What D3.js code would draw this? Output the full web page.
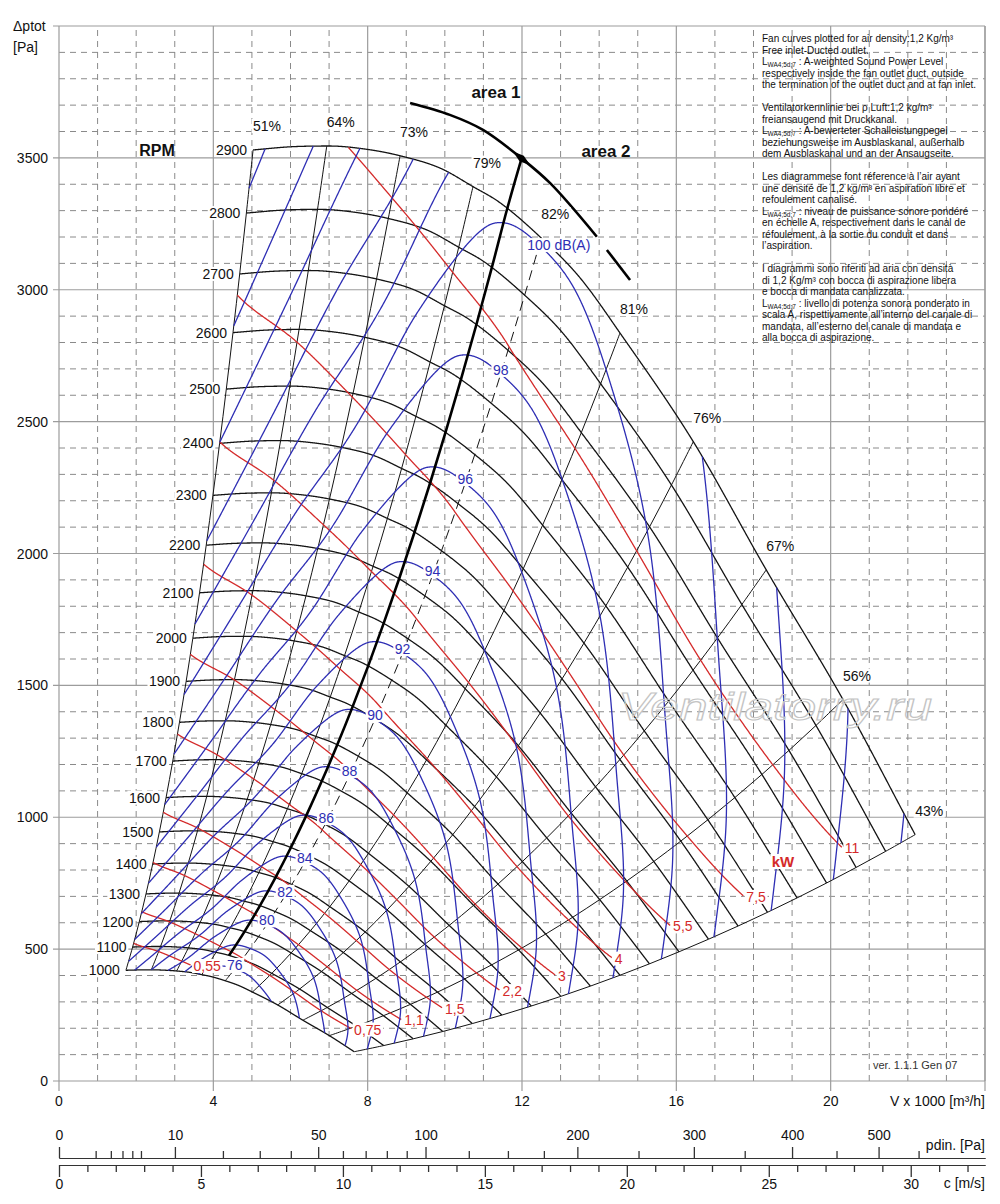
<!DOCTYPE html>
<html><head><meta charset="utf-8">
<script src="https://cdn.jsdelivr.net/npm/d3@7"></script>
<style>
body{margin:0;background:#fff}
svg{display:block}
text{font-family:"Liberation Sans",Arial,Helvetica,sans-serif}
</style>
</head><body>
<svg id="c" width="1000" height="1204"></svg>
<script>
// ================= DATA =================
// fan speeds of the drawn characteristics
const rpmValues = [1000,1100,1200,1300,1400,1500,1600,1700,1800,1900,2000,2100,2200,2300,2400,2500,2600,2700,2800,2900];
// characteristic at 2900 rpm : V [1000 m3/h] , dp tot [Pa]
const fanV2900 = [5.03, 6.0, 7.0, 8.0, 8.84, 9.88, 10.73, 11.43, 12.5, 13.5, 14.54, 16.44, 18.33, 20.32, 22.19];
const fanP2900 = [3530, 3542, 3545, 3532, 3508, 3461, 3391, 3330, 3196, 3046, 2836, 2424, 1938, 1446, 934];
// efficiency lines : label, flow where they meet the 2900 rpm curve
const effLabels = ["51%","64%","73%","79%","82%","81%","76%","67%","56%","43%"];
const effValues = [51, 64, 73, 79, 82, 81, 76, 67, 56, 43];
const effV2900  = [5.03, 6.94, 8.84, 10.73, 12.5, 14.54, 16.44, 18.33, 20.32, 22.19];
const effDashed = ["82%"];
// A-weighted sound power along the 2900 rpm curve [dB(A)]
const soundV2900 = [5.03, 6.59, 7.8, 9.18, 10.1, 11.43, 12.5, 13.5, 14.54, 16.44, 18.6, 20.45, 21.9, 22.19];
const soundL2900 = [110.5, 108, 106, 104, 102, 100.28, 100.1, 100.2, 100.6, 101.8, 104, 106, 108, 108.4];
const soundSlope = 55;              // dB per decade of speed
const dbLevels   = [76,78,80,82,84,86,88,90,92,94,96,98,100,102,104,106,108,110];
const dbLabelled = [76,80,82,84,86,88,90,92,94,96,98,100];
const dbLabelV2900 = 12.5;
// absorbed power lines [kW]
const powerKW     = [0.55, 0.75, 1.1, 1.5, 2.2, 3, 4, 5.5, 7.5, 11];
const powerLabels = ["0,55","0,75","1,1","1,5","2,2","3","4","5,5","7,5","11"];
const powerEndV2900 = [9.6, 20.35, 20.9, 21.05, 21.25, 21.5, 21.7, 21.6, 21.75, 21.85];
// area 1 / area 2 border
const areaLineV2900 = 11.62, areaLineFromRpm = 1100, areaLineTop = [11.99, 3498];
const areaArcA = [[9.10,3708],[10.13,3663],[10.99,3606],[11.99,3498],[12.73,3404],[13.94,3201]];
const areaArcB = [[14.2,3151],[14.80,3037]];
// axes
const xTicks = [0,4,8,12,16,20];
const yTicks = [0,500,1000,1500,2000,2500,3000,3500];
const airDensity = 1.2, ductArea = 0.2044;
const pdinMajor = [0,10,50,100,200,300,400,500];
const pdinMinor = [1,2,3,4,5,20,30,40,60,70,80,90,125,150,175,250,350,450,550];
const cMajor = [0,5,10,15,20,25,30];
const cMinor = [1,2,3,4,6,7,8,9,11,12,13,14,16,17,18,19,21,22,23,24,26,27,28,29,31,32];
const notes = [
"Fan curves plotted for air density:1,2 Kg/m³","Free inlet-Ducted outlet.",
"§ : A-weighted Sound Power Level","respectively inside the fan outlet duct, outside",
"the termination of the outlet duct and at fan inlet.","",
"Ventilatorkennlinie bei ρ Luft:1,2 kg/m³","freiansaugend mit Druckkanal.",
"§ : A-bewerteter Schalleistungpegel","beziehungsweise im Ausblaskanal, außerhalb",
"dem Ausblaskanal und an der Ansaugseite.","",
"Les diagrammese font réference à l’air ayant","une densité de 1,2 kg/m³ en aspiration libre et",
"refoulement canalisé.","§ : niveau de puissance sonore pondéré",
"en échelle A, respectivement dans le canal de","réfoulement, à la sortie du conduit et dans",
"l’aspiration.","",
"I diagrammi sono riferiti ad aria con densità","di 1,2 Kg/m³ con bocca di aspirazione libera",
"e bocca di mandata canalizzata.","§ : livello di potenza sonora ponderato in",
"scala A, rispettivamente all’interno del canale di","mandata, all’esterno del canale di mandata e",
"alla bocca di aspirazione."];

// ================= SETUP =================
const svg = d3.select("#c");
const x = d3.scaleLinear().domain([0,24]).range([59,985]);
const y = d3.scaleLinear().domain([0,4000]).range([1081,26]);
const BLUE="#2e2eb4", RED="#d42a2a", BLK="#141414";

function monotone(xs, ys){
  const n=xs.length, d=[], m=new Array(n);
  for(let i=0;i<n-1;i++) d.push((ys[i+1]-ys[i])/(xs[i+1]-xs[i]));
  m[0]=d[0]; m[n-1]=d[n-2];
  for(let i=1;i<n-1;i++) m[i]= d[i-1]*d[i]<=0 ? 0 : (d[i-1]+d[i])/2;
  for(let i=0;i<n-1;i++){
    if(d[i]===0){m[i]=0;m[i+1]=0;continue;}
    const a=m[i]/d[i], b=m[i+1]/d[i], h=a*a+b*b;
    if(h>9){const t=3/Math.sqrt(h); m[i]=t*a*d[i]; m[i+1]=t*b*d[i];}
  }
  return v=>{
    let i=d3.bisectRight(xs,v)-1; i=Math.max(0,Math.min(n-2,i));
    const h=xs[i+1]-xs[i], t=(v-xs[i])/h, t2=t*t, t3=t2*t;
    return (2*t3-3*t2+1)*ys[i]+(t3-2*t2+t)*h*m[i]+(-2*t3+3*t2)*ys[i+1]+(t3-t2)*h*m[i+1];
  };
}
const P0 = monotone(fanV2900, fanP2900);
const L0 = monotone(soundV2900, soundL2900);
const ETA = monotone(effV2900, effValues);
const nMax = rpmValues[rpmValues.length-1];
const sMin = rpmValues[0]/nMax;
const vLo = fanV2900[0], vHi = fanV2900[fanV2900.length-1];
// fan affinity laws: V ~ n, p ~ n^2
const pt = (v0,s)=>[v0*s, P0(v0)*s*s];
const samples = d3.range(vLo, vHi, 0.01).concat([vHi]);
const line = d3.line().x(d=>x(d[0])).y(d=>y(d[1]));
const lineCR = d3.line().x(d=>x(d[0])).y(d=>y(d[1])).curve(d3.curveCatmullRom);

// ================= GRID =================
const grid = svg.append("g");
d3.range(0,24,1).filter(v=>v%4!==0).forEach(v=>{
  grid.append("line").attr("x1",x(v)).attr("x2",x(v)).attr("y1",y(0)).attr("y2",y(4000))
    .attr("stroke","#8a8a8a").attr("stroke-dasharray","6,5").attr("stroke-width",1);
});
d3.range(100,4000,100).filter(p=>p%500!==0).forEach(p=>{
  grid.append("line").attr("x1",x(0)).attr("x2",x(24)).attr("y1",y(p)).attr("y2",y(p))
    .attr("stroke","#8a8a8a").attr("stroke-dasharray","6,5").attr("stroke-width",1);
});
d3.range(0,25,4).forEach(v=>{
  grid.append("line").attr("x1",x(v)).attr("x2",x(v)).attr("y1",y(0)+10).attr("y2",y(4000))
    .attr("stroke","#9c9c9c").attr("stroke-width",1.2);
});
d3.range(0,4001,500).forEach(p=>{
  grid.append("line").attr("x1",x(0)-6).attr("x2",x(24)).attr("y1",y(p)).attr("y2",y(p))
    .attr("stroke","#9c9c9c").attr("stroke-width",1.2);
});
grid.append("line").attr("x1",x(24)).attr("x2",x(24)).attr("y1",y(0)).attr("y2",y(4000)).attr("stroke","#9c9c9c").attr("stroke-width",1.2);

// axis labels
const axT = svg.append("g").attr("font-size",14).attr("fill","#111");
yTicks.forEach(p=>axT.append("text").attr("x",48).attr("y",y(p)+5).attr("text-anchor","end").text(p));
xTicks.forEach(v=>axT.append("text").attr("x",x(v)).attr("y",1106).attr("text-anchor","middle").text(v));
axT.append("text").attr("x",985).attr("y",1106).attr("text-anchor","end").text("V x 1000 [m³/h]");
axT.append("text").attr("x",13).attr("y",31).text("Δptot");
axT.append("text").attr("x",13).attr("y",52).text("[Pa]");

// ================= CURVES =================
const curves = svg.append("g").attr("fill","none");
// rpm characteristics
rpmValues.forEach(n=>{
  const s=n/nMax;
  curves.append("path").attr("d",line(samples.map(v=>pt(v,s)))).attr("stroke",BLK).attr("stroke-width",1.3);
});
// efficiency lines
effV2900.forEach((v,i)=>{
  const pts = rpmValues.map(n=>pt(v,n/nMax));
  const p = curves.append("path").attr("d",lineCR(pts)).attr("stroke",BLK).attr("stroke-width",1);
  if(effDashed.includes(effLabels[i])) p.attr("stroke-dasharray","10,6");
});
// power lines
const P2900 = v=> v/3.6*P0(v)/(ETA(v)/100)/1000;
const powerEnds = [];
powerKW.forEach((P,i)=>{
  const pts=[];
  samples.filter(v=>v<=powerEndV2900[i]).forEach(v=>{
    const s=Math.cbrt(P/P2900(v));
    if(s<=1 && s>=sMin) pts.push(pt(v,s));
  });
  powerEnds.push(pts[pts.length-1]);
  curves.append("path").attr("d",line(pts)).attr("stroke",RED).attr("stroke-width",1.3);
});
// sound level lines
function segments(sFn){
  const segs=[]; let cur=null, pv=null, ps=null;
  samples.forEach(v=>{
    const s=sFn(v), ok=s>=sMin&&s<=1;
    if(ok){
      if(!cur){ cur=[]; segs.push(cur);
        if(pv!==null){const b=ps>1?1:sMin, t=(b-ps)/(s-ps); cur.push(pt(pv+t*(v-pv),b));}
      }
      cur.push(pt(v,s));
    } else if(cur){
      const b=s>1?1:sMin, t=(b-ps)/(s-ps); cur.push(pt(pv+t*(v-pv),b)); cur=null;
    }
    pv=v; ps=s;
  });
  return segs;
}
const sOf = (L,v)=>Math.pow(10,(L-L0(v))/soundSlope);
dbLevels.forEach(L=>{
  segments(v=>sOf(L,v)).forEach(seg=>{
    curves.append("path").attr("d",line(seg)).attr("stroke",BLUE).attr("stroke-width",1.3);
  });
});
// area border line (thick)
const areaPts = rpmValues.filter(n=>n>=areaLineFromRpm).map(n=>pt(areaLineV2900,n/nMax)).concat([areaLineTop]);
curves.append("path").attr("d",lineCR(areaPts)).attr("stroke","#000").attr("stroke-width",2.6);
curves.append("path").attr("d",lineCR(areaArcA)).attr("stroke","#000").attr("stroke-width",2.6);
curves.append("path").attr("d",line(areaArcB)).attr("stroke","#000").attr("stroke-width",2.6);
{
  const c=[x(areaLineTop[0]),y(areaLineTop[1])];
  const a=[x(areaArcA[2][0]),y(areaArcA[2][1])], b=[x(areaArcA[4][0]),y(areaArcA[4][1])];
  let ux=b[0]-a[0], uy=b[1]-a[1]; const len=Math.hypot(ux,uy); ux/=len; uy/=len;
  const nx=-uy, ny=ux;
  const poly=[[c[0]-11*ux,c[1]-11*uy],[c[0]+3.5*nx,c[1]+3.5*ny],[c[0]+11*ux,c[1]+11*uy],[c[0]-3.5*nx,c[1]-3.5*ny]];
  svg.append("polygon").attr("points",poly.map(p=>p.join(",")).join(" ")).attr("fill","#000");
}

// watermark
svg.append("text").attr("x",775).attr("y",720).attr("text-anchor","middle").attr("font-size",39)
  .attr("font-style","italic").attr("fill","none").attr("stroke","#c4c4c4").attr("stroke-width",1.1)
  .attr("textLength",314).attr("lengthAdjust","spacingAndGlyphs").text("Ventilatorry.ru");

// ================= LABELS =================
const labs = svg.append("g");
function addLabel(px,py,txt,o={}){
  const gl=labs.append("g");
  const t=gl.append("text").attr("x",px).attr("y",py).attr("text-anchor",o.anchor||"middle")
    .attr("font-size",o.size||14).attr("fill",o.color||"#111").text(txt);
  if(o.weight) t.attr("font-weight",o.weight);
  if(o.bg!==false){const b=t.node().getBBox();
    gl.insert("rect","text").attr("x",b.x-1.5).attr("y",b.y+1).attr("width",b.width+3).attr("height",b.height-2).attr("fill","#fff");}
}
rpmValues.forEach(n=>{const p=pt(vLo,n/nMax); addLabel(x(p[0])-6,y(p[1])+5,String(n),{anchor:"end"});});
effV2900.forEach((v,i)=>{const p=pt(v,1); addLabel(x(p[0])+14,y(p[1])-19,effLabels[i]);});
dbLabelled.forEach(L=>{
  const p=pt(dbLabelV2900, sOf(L,dbLabelV2900));
  if(L===100) addLabel(x(p[0])-12,y(p[1])+5,"100 dB(A)",{anchor:"start",color:BLUE});
  else addLabel(x(p[0]),y(p[1])+1,String(L),{color:BLUE});
});
powerEnds.forEach((p,i)=>addLabel(x(p[0])+3,y(p[1])+6,powerLabels[i],{anchor:"start",color:RED}));
addLabel(783,867,"kW",{color:RED,weight:"bold",size:15});
addLabel(157,156,"RPM",{weight:"bold",size:16,bg:false});
addLabel(496,98,"area 1",{weight:"bold",size:17,bg:false});
addLabel(606,157,"area 2",{weight:"bold",size:17,bg:false});

// notes
const nt = svg.append("g").attr("font-size",10).attr("fill","#111");
notes.forEach((s,i)=>{
  if(!s) return;
  const t=nt.append("text").attr("x",762).attr("y",42+i*11.5);
  if(s.startsWith("§")){
    t.append("tspan").text("L");
    t.append("tspan").attr("font-size",6.5).attr("dy",2).text("WA4;5d;7");
    t.append("tspan").attr("dy",-2).text(s.slice(1));
  } else t.text(s);
});
svg.append("text").attr("x",873).attr("y",1069).attr("font-size",11).attr("fill","#333").text("ver. 1.1.1 Gen 07");

// ================= BOTTOM SCALES =================
const cPerV = 1000/3600/ductArea;   // m/s per 1000 m3/h
const cScale = d3.scaleLinear().domain([0,24*cPerV]).range([x(0),x(24)]);
const pdScale = d3.scaleSqrt().domain([0,airDensity/2*Math.pow(24*cPerV,2)]).range([x(0),x(24)]);
const gP = svg.append("g").attr("transform","translate(0,1158)").attr("color","#333");
gP.call(d3.axisTop(pdScale).tickValues(pdinMinor).tickSize(7).tickSizeOuter(0).tickFormat(""));
gP.append("g").call(d3.axisTop(pdScale).tickValues(pdinMajor).tickSize(11).tickSizeOuter(0).tickPadding(7).tickFormat(d3.format("d")));
const gC = svg.append("g").attr("transform","translate(0,1165)").attr("color","#333");
gC.call(d3.axisBottom(cScale).tickValues(cMinor).tickSize(7).tickSizeOuter(0).tickFormat(""));
gC.append("g").call(d3.axisBottom(cScale).tickValues(cMajor).tickSize(12).tickSizeOuter(0).tickPadding(2).tickFormat(d3.format("d")));
svg.selectAll(".tick text").attr("font-size",14).attr("fill","#111").attr("font-family","Liberation Sans, Arial, sans-serif");
svg.selectAll(".tick line").attr("stroke-width",1.3);
svg.append("text").attr("x",985).attr("y",1150).attr("text-anchor","end").attr("font-size",14).attr("fill","#111").text("pdin. [Pa]");
svg.append("text").attr("x",985).attr("y",1188).attr("text-anchor","end").attr("font-size",14).attr("fill","#111").text("c [m/s]");
</script>
</body></html>
